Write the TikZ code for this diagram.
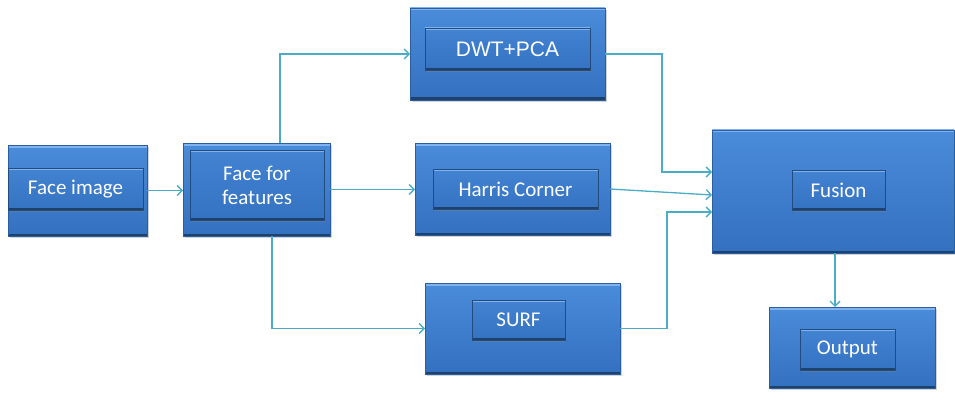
\documentclass[tikz,border=0pt]{standalone}
\usepackage{fontspec}
\setmainfont{Carlito}
\newfontfamily\arialf{Liberation Sans}
\usetikzlibrary{arrows.meta,shadows,calc}
\definecolor{btop}{HTML}{4A8CDA}
\definecolor{bbot}{HTML}{3470C0}
\definecolor{bedge}{HTML}{2B5E9E}
\definecolor{itop}{HTML}{4283D2}
\definecolor{ibot}{HTML}{3572C2}
\definecolor{hilite}{HTML}{7FB2EE}
\definecolor{conncol}{HTML}{4BACC6}
\tikzset{
  bevel/.style={path picture={
      \draw[hilite, line width=#1]
        (path picture bounding box.north west) -- (path picture bounding box.north east);
      \draw[bedge!70!black, line width=#1]
        (path picture bounding box.south west) -- (path picture bounding box.south east);
    }},
  outerbox/.style={draw=bedge, line width=0.8pt, top color=btop, bottom color=bbot,
    inner sep=0pt, outer sep=0pt, bevel=5pt,
    drop shadow={opacity=0.35, shadow xshift=1.5pt, shadow yshift=-2pt}},
  innerbox/.style={draw=bedge!80!black, line width=0.7pt, top color=itop, bottom color=ibot,
    inner sep=0pt, outer sep=0pt, text=white, font=\fontsize{21}{24}\selectfont, align=center,
    bevel=3.5pt,
    drop shadow={opacity=0.45, shadow xshift=1pt, shadow yshift=-2pt}},
  conn/.style={draw=conncol, line width=1.3pt, -{Straight Barb[length=5pt,width=10pt]}}
}
\begin{document}
\begin{tikzpicture}[x=1pt,y=-1pt]
\useasboundingbox (0,0) rectangle (955,401);
% outer boxes
\node[outerbox, minimum width=139pt, minimum height=91pt] (fi) at (77.5,190.5) {};
\node[outerbox, minimum width=147pt, minimum height=93pt] (ff) at (256.5,189.5) {};
\node[outerbox, minimum width=195pt, minimum height=92pt] (dwt) at (507.5,54) {};
\node[outerbox, minimum width=195pt, minimum height=92pt] (har) at (512.5,189) {};
\node[outerbox, minimum width=195pt, minimum height=91pt] (surf) at (522.5,328.5) {};
\node[outerbox, minimum width=242pt, minimum height=123pt] (fus) at (833,191.5) {};
\node[outerbox, minimum width=166pt, minimum height=81pt] (out) at (852,347.5) {};
% inner boxes
\node[innerbox, minimum width=135pt, minimum height=42pt] (fil) at (75.5,189) {Face image};
\node[innerbox, minimum width=134pt, minimum height=70pt] (ffl) at (257,185) {Face for\\features};
\node[innerbox, minimum width=165pt, minimum height=42pt, font=\arialf\fontsize{21}{24}\selectfont] (dwtl) at (507.5,49) {DWT+PCA};
\node[innerbox, minimum width=165pt, minimum height=40pt] (harl) at (515.5,189) {Harris Corner};
\node[innerbox, minimum width=93pt, minimum height=40pt] (surfl) at (518.5,320) {SURF};
\node[innerbox, minimum width=93pt, minimum height=40pt] (fusl) at (838.5,190) {Fusion};
\node[innerbox, minimum width=95pt, minimum height=41pt] (outl) at (847.5,349.5) {Output};
% connectors
\coordinate (j1) at (662,172);
\coordinate (j2) at (667,212);
\draw[conn] (fi.east) -- (fi.east -| ff.west);
\draw[conn] ([xshift=23.5pt]ff.north) |- (dwt.west);
\draw[conn] (ff.east) -- (ff.east -| har.west);
\draw[conn] ([xshift=15.5pt]ff.south) |- (surf.west);
\draw[conn] (dwt.east) -| (j1) -- (j1 -| fus.west);
\draw[conn] (har.east) -- ([yshift=-3.5pt]fus.west);
\draw[conn] (surf.east) -| (j2) -- (j2 -| fus.west);
\draw[conn] ([xshift=2pt]fus.south) -- ([xshift=2pt]fus.south |- out.north);
\end{tikzpicture}
\end{document}
